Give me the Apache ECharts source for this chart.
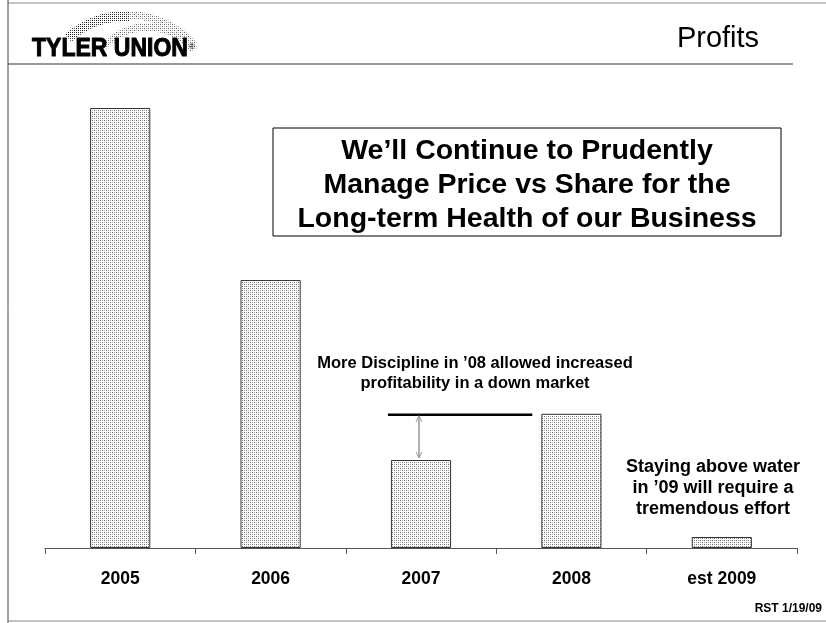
<!DOCTYPE html>
<html>
<head>
<meta charset="utf-8">
<script src="https://cdn.jsdelivr.net/npm/echarts@6/dist/echarts.min.js"></script>
<style>html,body{margin:0;padding:0;background:#fff}#c{width:826px;height:623px}</style>
</head>
<body>
<div id="c"></div>
<script>
// ---- data ----
const categories = ['2005', '2006', '2007', '2008', 'est 2009'];
const profits = [100, 60.9, 20.0, 30.5, 2.5];   // relative profit level (2005 = 100)
const axisMax = 100;

function makePattern(dark, mid) {
  const c = document.createElement('canvas');
  c.width = 4; c.height = 4;
  const ctx = c.getContext('2d');
  ctx.fillStyle = '#ffffff'; ctx.fillRect(0, 0, 4, 4);
  ctx.fillStyle = dark; ctx.fillRect(0, 0, 1, 1); ctx.fillRect(2, 2, 1, 1);
  ctx.fillStyle = mid; ctx.fillRect(2, 0, 1, 1); ctx.fillRect(0, 2, 1, 1);
  return c;
}
const barPat = makePattern('#6a6a6a', '#a8a8a8');
const logoPatDark = makePattern('#111', '#444');
const logoPatLight = makePattern('#666', '#b0b0b0');

const chart = echarts.init(document.getElementById('c'), null, {renderer: 'canvas'});
const FONT = '"Liberation Sans", Arial, sans-serif';

chart.setOption({
  animation: false,
  backgroundColor: '#fff',
  grid: {left: 45, right: 29, top: 108, bottom: 75},
  xAxis: {
    type: 'category',
    data: categories,
    boundaryGap: true,
    axisLine: {lineStyle: {color: '#555', width: 1}},
    axisTick: {show: true, length: 6, alignWithLabel: false, lineStyle: {color: '#555'}},
    axisLabel: {color: '#000', fontFamily: FONT, fontWeight: 'bold', fontSize: 17.5, margin: 22}
  },
  yAxis: {
    type: 'value', min: 0, max: axisMax, show: false,
    splitLine: {show: false}
  },
  series: [{
    type: 'bar',
    data: profits,
    barWidth: '40%',
    itemStyle: {
      color: {image: barPat, repeat: 'repeat'},
      borderColor: '#333',
      borderWidth: 1
    }
  }]
});

// annotation positions derived from the data through the chart's scales
const bw = 150.4;
const c2007 = chart.convertToPixel({xAxisIndex: 0}, '2007');
const c2008 = chart.convertToPixel({xAxisIndex: 0}, '2008');
const y2008 = chart.convertToPixel({yAxisIndex: 0}, profits[3]);
const y2007 = chart.convertToPixel({yAxisIndex: 0}, profits[2]);
const lineX0 = c2007 - 0.22 * bw;
const lineX1 = c2008 - 0.26 * bw;
const ax = c2007 - 2;
const ay0 = y2008 + 2, ay1 = y2007 - 2;
const deg = Math.PI / 180;

chart.setOption({
  graphic: [
    // page frame lines
    {type: 'line', shape: {x1: 8, y1: 3, x2: 826, y2: 3}, style: {stroke: '#888', lineWidth: 1}},
    {type: 'line', shape: {x1: 8, y1: 0, x2: 8, y2: 623}, style: {stroke: '#444', lineWidth: 1}},
    {type: 'line', shape: {x1: 8, y1: 621, x2: 826, y2: 621}, style: {stroke: '#888', lineWidth: 1}},
    {type: 'line', shape: {x1: 8, y1: 64, x2: 793, y2: 64}, style: {stroke: '#333', lineWidth: 1}},
    // logo fan
    {type: 'sector', shape: {cx: 127, cy: 106, r: 95, r0: 85, startAngle: 229 * deg, endAngle: 272 * deg},
     style: {fill: {image: logoPatDark, repeat: 'repeat'}}},
    {type: 'sector', shape: {cx: 127, cy: 106, r: 95, r0: 87, startAngle: 272 * deg, endAngle: 318 * deg},
     style: {fill: {image: logoPatLight, repeat: 'repeat'}}},
    {type: 'sector', shape: {cx: 148, cy: 86, r: 63, r0: 55, startAngle: 222 * deg, endAngle: 322 * deg},
     style: {fill: {image: logoPatLight, repeat: 'repeat'}}},
    {type: 'text', x: 32, y: 62, scaleY: 1.15,
     style: {text: 'TYLER UNION', font: 'bold 23px ' + FONT, fill: '#000', stroke: '#000', lineWidth: 0.9, textVerticalAlign: 'bottom'}},
    {type: 'text', x: 189, y: 43,
     style: {text: '®', font: '8px ' + FONT, fill: '#000'}},
    {type: 'text', x: 718, y: 39,
     style: {text: 'Profits', font: '29px ' + FONT, fill: '#000', textAlign: 'center', textVerticalAlign: 'middle'}},
    // headline box
    {type: 'rect', shape: {x: 273, y: 128, width: 508, height: 108},
     style: {fill: '#fff', stroke: '#000', lineWidth: 1}},
    {type: 'text', x: 527, y: 185,
     style: {text: "We’ll Continue to Prudently\nManage Price vs Share for the\nLong-term Health of our Business",
             font: 'bold 28.5px ' + FONT, lineHeight: 34, fill: '#000', textAlign: 'center', textVerticalAlign: 'middle'}},
    // middle annotation
    {type: 'text', x: 475, y: 373,
     style: {text: "More Discipline in ’08 allowed increased\nprofitability in a down market",
             font: 'bold 16.5px ' + FONT, lineHeight: 20, fill: '#000', textAlign: 'center', textVerticalAlign: 'middle'}},
    {type: 'line', shape: {x1: lineX0, y1: y2008 + 1, x2: lineX1, y2: y2008 + 1}, style: {stroke: '#000', lineWidth: 2.5}},
    {type: 'line', shape: {x1: ax, y1: ay0, x2: ax, y2: ay1}, style: {stroke: '#999', lineWidth: 1.5}},
    {type: 'polyline', shape: {points: [[ax - 3, ay0 + 6], [ax, ay0], [ax + 3, ay0 + 6]]}, style: {stroke: '#999', lineWidth: 1, fill: null}},
    {type: 'polyline', shape: {points: [[ax - 3, ay1 - 6], [ax, ay1], [ax + 3, ay1 - 6]]}, style: {stroke: '#999', lineWidth: 1, fill: null}},
    // right annotation
    {type: 'text', x: 713, y: 488,
     style: {text: "Staying above water\nin ’09 will require a\ntremendous effort",
             font: 'bold 18px ' + FONT, lineHeight: 21, fill: '#000', textAlign: 'center', textVerticalAlign: 'middle'}},
    {type: 'text', x: 822, y: 609,
     style: {text: 'RST 1/19/09', font: 'bold 12px ' + FONT, fill: '#000', textAlign: 'right', textVerticalAlign: 'middle'}}
  ]
});
</script>
</body>
</html>
